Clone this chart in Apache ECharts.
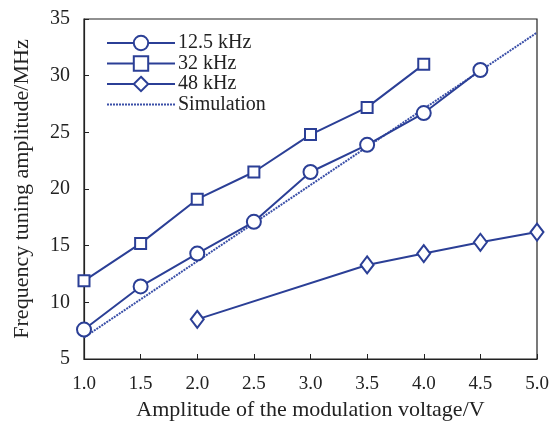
<!DOCTYPE html>
<html><head><meta charset="utf-8">
<script src="https://cdn.jsdelivr.net/npm/echarts@6/dist/echarts.min.js"></script>
<style>html,body{margin:0;padding:0;background:#fff}#c{width:560px;height:426px}</style>
</head><body><div id="c"></div>
<script>
const xTicks = [1.0, 1.5, 2.0, 2.5, 3.0, 3.5, 4.0, 4.5, 5.0];
const x125 = [1.0, 1.5, 2.0, 2.5, 3.0, 3.5, 4.0, 4.5];
const y125 = [7.6, 11.4, 14.3, 17.1, 21.5, 23.9, 26.7, 30.5];
const x32 = [1.0, 1.5, 2.0, 2.5, 3.0, 3.5, 4.0];
const y32 = [11.9, 15.2, 19.1, 21.5, 24.8, 27.2, 31.0];
const x48 = [2.0, 3.5, 4.0, 4.5, 5.0];
const y48 = [8.5, 13.3, 14.3, 15.3, 16.2];
const xSim = [1.0, 5.0];
const ySim = [6.9, 33.8];
const names = ['12.5 kHz', '32 kHz', '48 kHz', 'Simulation'];

const col = '#2b3f96';
const font = 'Liberation Serif';
const pair = (xs, ys) => xs.map((x, i) => [x, ys[i]]);
const chart = echarts.init(document.getElementById('c'), null, {renderer: 'canvas'});
const base = {type: 'line', color: col, lineStyle: {width: 2, color: col}, itemStyle: {color: '#fff', borderColor: col, borderWidth: 2}, showSymbol: true, animation: false, z: 3};
chart.setOption({
  animation: false,
  grid: {left: 84, right: 23, top: 19, bottom: 67, show: true, borderColor: '#222', borderWidth: 1.2, backgroundColor: 'transparent'},
  legend: {
    left: 101, top: 28, orient: 'vertical', itemWidth: 68, itemHeight: 18, itemGap: 0.5,
    textStyle: {fontFamily: font, fontSize: 20, lineHeight: 20, color: '#222', padding: [0, 0, 0, -2]},
    data: [names[0], names[1], names[2], {name: names[3], itemStyle: {opacity: 0}}]
  },
  xAxis: {
    type: 'value', min: 1.0, max: 5.0, interval: 0.5,
    name: 'Amplitude of the modulation voltage/V', nameLocation: 'middle', nameGap: 39,
    nameTextStyle: {fontFamily: font, fontSize: 22, color: '#222'},
    axisLine: {show: true, lineStyle: {color: '#222', width: 1.2}},
    axisTick: {show: true, inside: true, length: 5, lineStyle: {color: '#222'}},
    axisLabel: {fontFamily: font, fontSize: 19, color: '#222', margin: 16, formatter: v => v.toFixed(1)},
    splitLine: {show: false}
  },
  yAxis: {
    type: 'value', min: 5, max: 35, interval: 5,
    name: 'Frequency tuning amplitude/MHz', nameLocation: 'middle', nameGap: 51,
    nameTextStyle: {fontFamily: font, fontSize: 22, color: '#222'},
    axisLine: {show: true, lineStyle: {color: '#222', width: 1.2}},
    axisTick: {show: true, inside: true, length: 5, lineStyle: {color: '#222'}},
    axisLabel: {fontFamily: font, fontSize: 20, color: '#222', margin: 14},
    splitLine: {show: false}
  },
  series: [
    Object.assign({}, base, {name: names[0], data: pair(x125, y125), symbol: 'circle', symbolSize: 14}),
    Object.assign({}, base, {name: names[1], data: pair(x32, y32), symbol: 'rect', symbolSize: 11}),
    Object.assign({}, base, {name: names[2], data: pair(x48, y48), symbol: 'diamond', symbolSize: [13, 17]}),
    {type: 'line', name: names[3], data: pair(xSim, ySim), symbol: 'none', color: '#3a4fa8', lineStyle: {width: 2, type: [2, 1], color: '#3a4fa8'}, z: 2, animation: false}
  ]
});
</script></body></html>
